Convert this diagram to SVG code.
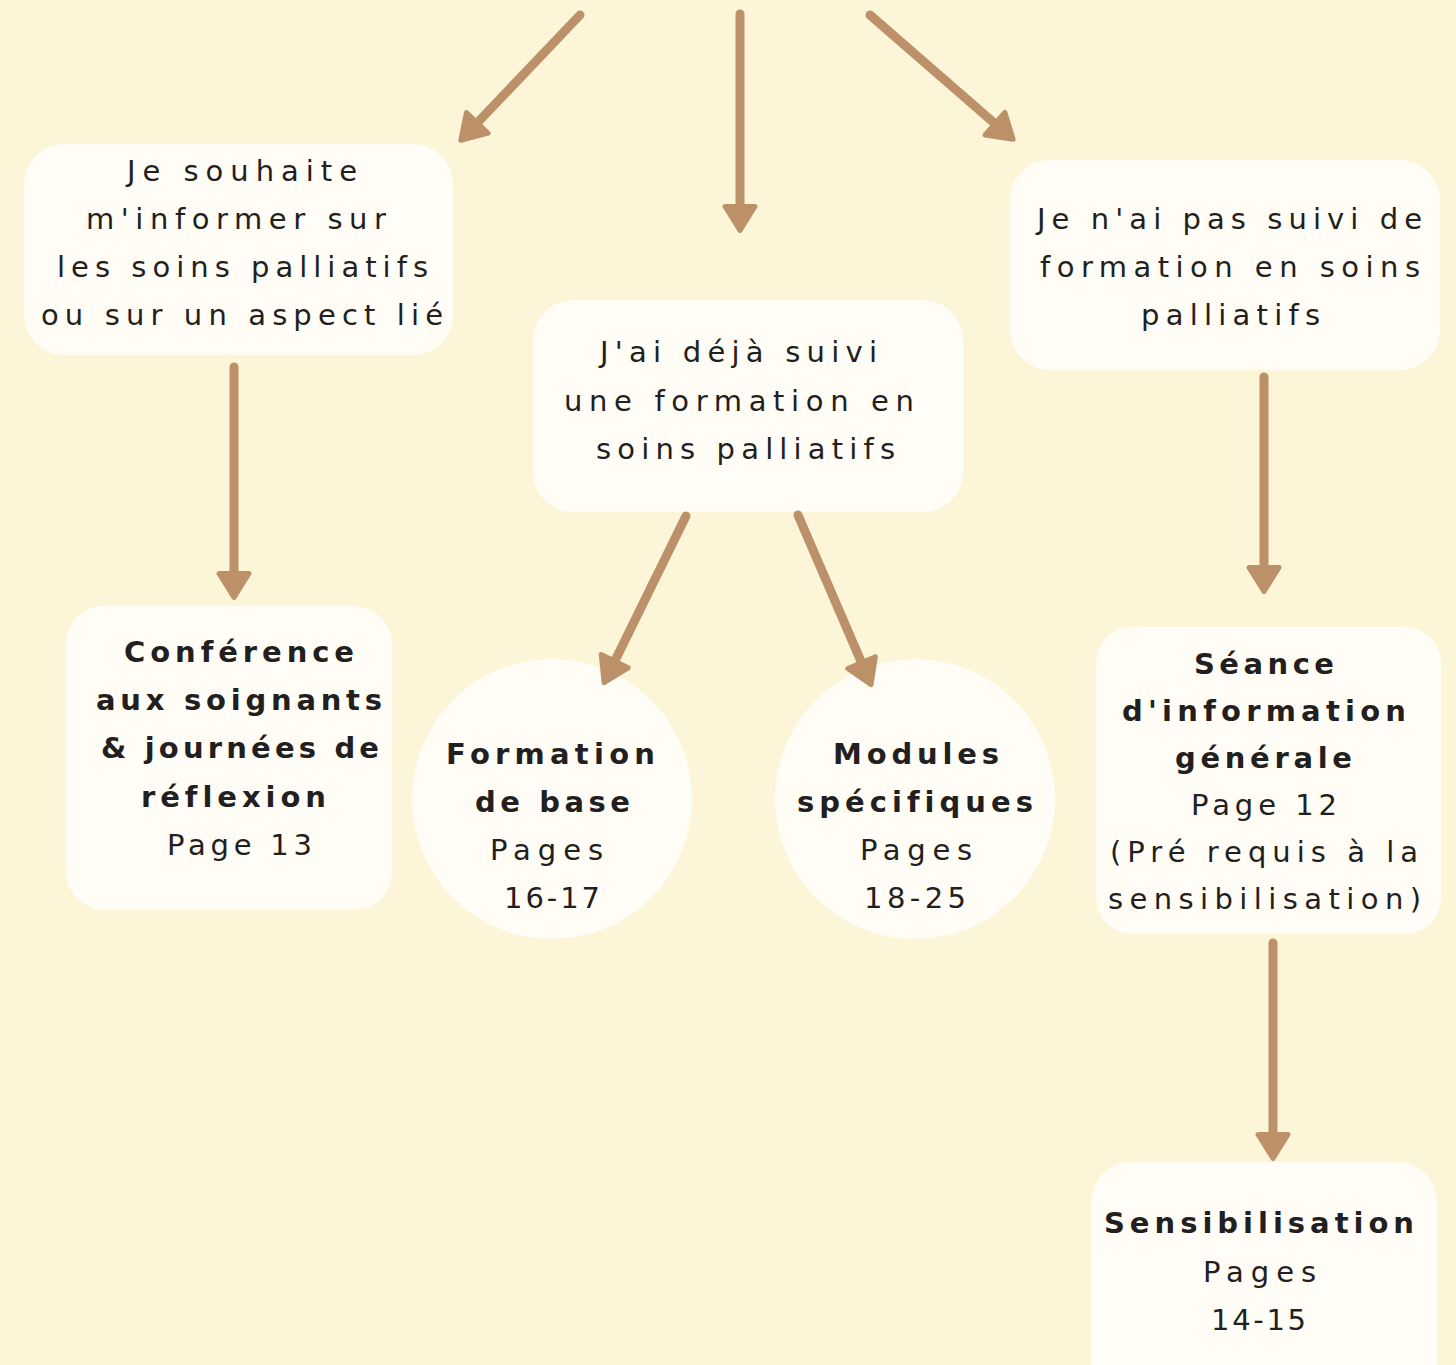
<svg xmlns="http://www.w3.org/2000/svg" width="1456" height="1365" viewBox="0 0 1456 1365">
<style>
.bg{fill:#FCF5D7}
.box{fill:#FFFDF5}
.t{font-family:"DejaVu Sans","Liberation Sans",sans-serif;font-size:29px;fill:#231F20;font-variant-ligatures:none}
.b{font-weight:700}
.c{stroke:#BC9169;stroke-width:9;stroke-linecap:round;fill:none;marker-end:url(#ah)}
</style>
<defs>
<marker id="ah" markerUnits="userSpaceOnUse" viewBox="0 0 32 36" markerWidth="32" markerHeight="36" refX="15.5" refY="18" orient="auto">
<path d="M3,3 L27,18 L3,33 Z" fill="#BC9169" stroke="#BC9169" stroke-width="5" stroke-linejoin="round"/>
</marker>
</defs>
<rect class="bg" x="0" y="0" width="1456" height="1365"/>
<g id="n-informer">
<rect class="box" x="24" y="144" width="429" height="211" rx="40"/>
<text class="t" x="127" y="181" textLength="230" lengthAdjust="spacing">Je souhaite</text>
<text class="t" x="86" y="229" textLength="300" lengthAdjust="spacing">m'informer sur</text>
<text class="t" x="57" y="277" textLength="371" lengthAdjust="spacing">les soins palliatifs</text>
<text class="t" x="41" y="325" textLength="402" lengthAdjust="spacing">ou sur un aspect lié</text>
</g>
<g id="n-deja">
<rect class="box" x="533" y="300" width="430" height="212" rx="40"/>
<text class="t" x="600" y="362" textLength="277" lengthAdjust="spacing">J'ai déjà suivi</text>
<text class="t" x="564" y="411" textLength="350" lengthAdjust="spacing">une formation en</text>
<text class="t" x="596" y="459" textLength="299" lengthAdjust="spacing">soins palliatifs</text>
</g>
<g id="n-pas-suivi">
<rect class="box" x="1010" y="160" width="430" height="210" rx="40"/>
<text class="t" x="1037" y="229" textLength="385" lengthAdjust="spacing">Je n'ai pas suivi de</text>
<text class="t" x="1040" y="277" textLength="380" lengthAdjust="spacing">formation en soins</text>
<text class="t" x="1141" y="325" textLength="179" lengthAdjust="spacing">palliatifs</text>
</g>
<g id="n-conference">
<rect class="box" x="66" y="606" width="326" height="304" rx="38"/>
<text class="t b" x="124" y="662" textLength="230" lengthAdjust="spacing">Conférence</text>
<text class="t b" x="96" y="710" textLength="286" lengthAdjust="spacing">aux soignants</text>
<text class="t b" x="101" y="758" textLength="278" lengthAdjust="spacing">&amp; journées de</text>
<text class="t b" x="141" y="807" textLength="185" lengthAdjust="spacing">réflexion</text>
<text class="t" x="167" y="855" textLength="145" lengthAdjust="spacing">Page 13</text>
</g>
<g id="n-formation-base">
<circle class="box" cx="552" cy="799" r="140"/>
<text class="t b" x="446" y="764" textLength="209" lengthAdjust="spacing">Formation</text>
<text class="t b" x="475" y="812" textLength="155" lengthAdjust="spacing">de base</text>
<text class="t" x="490" y="860" textLength="113" lengthAdjust="spacing">Pages</text>
<text class="t" x="504" y="908" textLength="96" lengthAdjust="spacing">16-17</text>
</g>
<g id="n-modules">
<circle class="box" cx="915" cy="799" r="140"/>
<text class="t b" x="833" y="764" textLength="166" lengthAdjust="spacing">Modules</text>
<text class="t b" x="797" y="812" textLength="236" lengthAdjust="spacing">spécifiques</text>
<text class="t" x="860" y="860" textLength="112" lengthAdjust="spacing">Pages</text>
<text class="t" x="864" y="908" textLength="102" lengthAdjust="spacing">18-25</text>
</g>
<g id="n-seance">
<rect class="box" x="1096" y="627" width="345" height="307" rx="36"/>
<text class="t b" x="1194" y="674" textLength="140" lengthAdjust="spacing">Séance</text>
<text class="t b" x="1122" y="721" textLength="284" lengthAdjust="spacing">d'information</text>
<text class="t b" x="1175" y="768" textLength="177" lengthAdjust="spacing">générale</text>
<text class="t" x="1191" y="815" textLength="146" lengthAdjust="spacing">Page 12</text>
<text class="t" x="1110" y="862" textLength="308" lengthAdjust="spacing">(Pré requis à la</text>
<text class="t" x="1108" y="909" textLength="313" lengthAdjust="spacing">sensibilisation)</text>
</g>
<g id="n-sensibilisation">
<rect class="box" x="1091" y="1162" width="346" height="260" rx="40"/>
<text class="t b" x="1104" y="1233" textLength="310" lengthAdjust="spacing">Sensibilisation</text>
<text class="t" x="1203" y="1282" textLength="113" lengthAdjust="spacing">Pages</text>
<text class="t" x="1211" y="1330" textLength="95" lengthAdjust="spacing">14-15</text>
</g>
<g id="connectors">
<line class="c" x1="580" y1="15" x2="468.7" y2="131.9"/>
<line class="c" x1="740" y1="14" x2="740" y2="219"/>
<line class="c" x1="870" y1="15" x2="1004.4" y2="131.8"/>
<line class="c" x1="234" y1="367" x2="234" y2="586"/>
<line class="c" x1="686" y1="516" x2="609.2" y2="672.4"/>
<line class="c" x1="798" y1="515" x2="866.5" y2="674.1"/>
<line class="c" x1="1264" y1="377" x2="1264" y2="580"/>
<line class="c" x1="1273" y1="943" x2="1273" y2="1147"/>
</g>
</svg>
